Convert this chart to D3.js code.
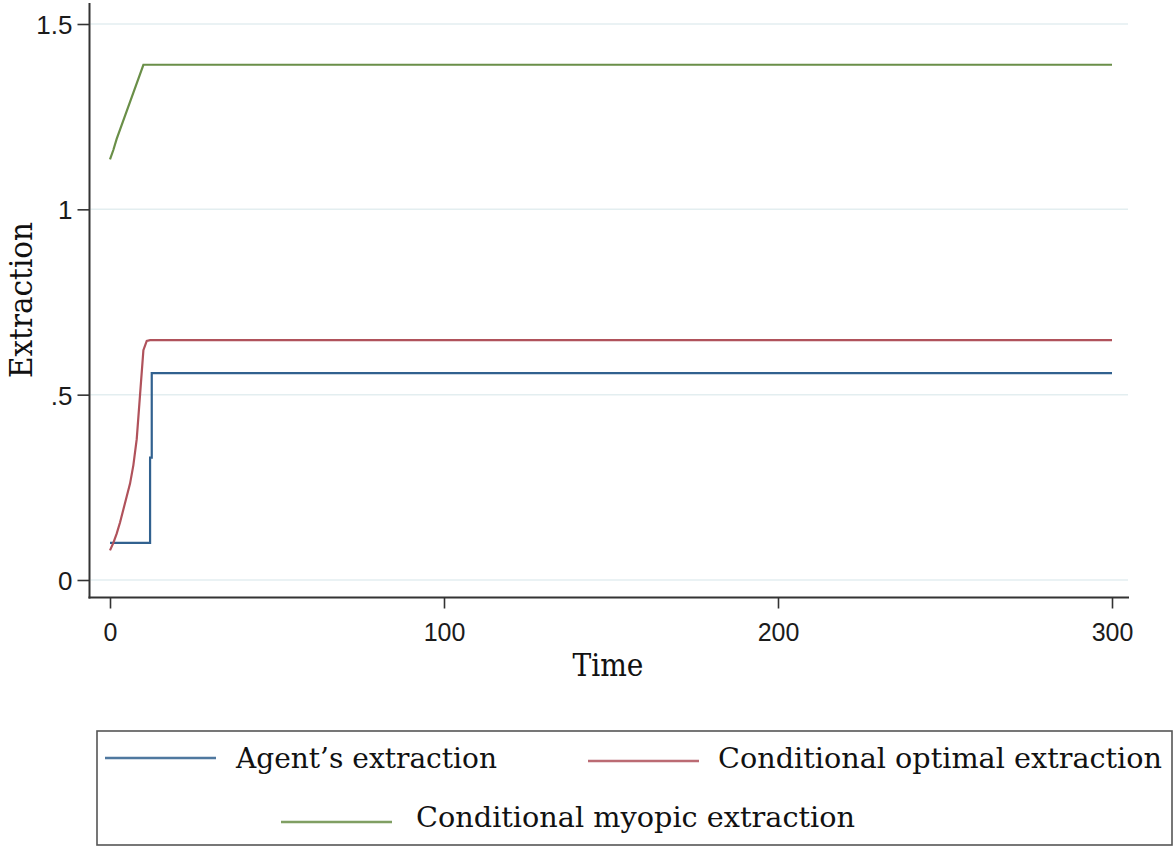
<!DOCTYPE html>
<html>
<head>
<meta charset="utf-8">
<script src="https://cdn.jsdelivr.net/npm/d3@7"></script>
<style>
  html, body { margin: 0; padding: 0; background: #fff; }
  svg { display: block; }
</style>
</head>
<body>
<svg id="chart" width="1174" height="846"></svg>
<script>
// ---- data ----
const myopicTime   = [0, 1, 2, 3, 4, 5, 6, 7, 8, 9, 10, 300];
const myopicValue  = [1.135, 1.16, 1.19, 1.215, 1.24, 1.265, 1.29, 1.315, 1.34, 1.365, 1.39, 1.39];
const optimalTime  = [0, 1, 2, 3, 4, 5, 6, 7, 8, 9, 10, 11, 12, 300];
const optimalValue = [0.08, 0.10, 0.125, 0.155, 0.19, 0.225, 0.26, 0.31, 0.38, 0.50, 0.62, 0.645, 0.647, 0.647];
const agentTime    = [0, 12, 12, 12.5, 12.5, 300];
const agentValue   = [0.10, 0.10, 0.33, 0.33, 0.558, 0.558];
const xTicks = [0, 100, 200, 300];
const yTicks = [0, 0.5, 1, 1.5];
const yTickLabels = ["0", ".5", "1", "1.5"];
const seriesNames = ["Agent\u2019s extraction", "Conditional optimal extraction", "Conditional myopic extraction"];
const colors = ["#31618f", "#b0525b", "#6a8f48"];

// ---- layout ----
const svg = d3.select("#chart");
const axisLeftX = 89.5, axisBottomY = 597.5;
const x = d3.scaleLinear().domain([0, 300]).range([110, 1112]);
const y = d3.scaleLinear().domain([0, 1.5]).range([580, 24]);
const plotRight = 1129, plotTop = 3;

// gridlines
svg.append("g").selectAll("line").data(yTicks).join("line")
  .attr("x1", axisLeftX + 1).attr("x2", plotRight - 1)
  .attr("y1", d => y(d)).attr("y2", d => y(d))
  .attr("stroke", "#e3eef0").attr("stroke-width", 1.5);

// y axis
const yAxis = d3.axisLeft(y).tickValues(yTicks).tickSize(12).tickSizeOuter(0)
  .tickFormat((d, i) => yTickLabels[i]);
const gy = svg.append("g").attr("transform", `translate(${axisLeftX},0)`).call(yAxis);
gy.select(".domain").remove();
gy.selectAll(".tick line").attr("stroke", "#333").attr("stroke-width", 1.6);
gy.selectAll(".tick text").attr("x", -17).attr("dy", "0.36em")
  .attr("font-family", "'Liberation Sans', Arial, sans-serif").attr("font-size", 26).attr("fill", "#1b1b1b");
svg.append("line").attr("x1", axisLeftX).attr("x2", axisLeftX)
  .attr("y1", plotTop).attr("y2", axisBottomY + 1)
  .attr("stroke", "#333").attr("stroke-width", 2);

// x axis
const xAxis = d3.axisBottom(x).tickValues(xTicks).tickSize(11).tickSizeOuter(0).tickFormat(d3.format("d"));
const gx = svg.append("g").attr("transform", `translate(0,${axisBottomY})`).call(xAxis);
gx.select(".domain").remove();
gx.selectAll(".tick line").attr("stroke", "#333").attr("stroke-width", 1.6);
gx.selectAll(".tick text").attr("y", 43).attr("dy", 0)
  .attr("font-family", "'Liberation Sans', Arial, sans-serif").attr("font-size", 25).attr("fill", "#1b1b1b");
svg.append("line").attr("x1", axisLeftX - 1).attr("x2", plotRight)
  .attr("y1", axisBottomY).attr("y2", axisBottomY)
  .attr("stroke", "#333").attr("stroke-width", 2);

// axis titles
svg.append("text").attr("x", 608).attr("y", 676).attr("text-anchor", "middle")
  .attr("font-family", "'DejaVu Serif', serif").attr("font-size", 32).attr("fill", "#111")
  .attr("textLength", 71).attr("lengthAdjust", "spacingAndGlyphs").text("Time");
svg.append("text").attr("transform", "translate(32,300) rotate(-90)").attr("text-anchor", "middle")
  .attr("font-family", "'DejaVu Serif', serif").attr("font-size", 32).attr("fill", "#111")
  .attr("textLength", 156).attr("lengthAdjust", "spacingAndGlyphs").text("Extraction");

// lines
const line = d3.line().x(d => x(d[0])).y(d => y(d[1]));
const series = [
  d3.zip(agentTime, agentValue),
  d3.zip(optimalTime, optimalValue),
  d3.zip(myopicTime, myopicValue)
];
svg.append("g").selectAll("path").data([0, 1, 2]).join("path")
  .attr("d", i => line(series[i]))
  .attr("fill", "none").attr("stroke", i => colors[i]).attr("stroke-width", 2.2)
  .attr("stroke-linejoin", "miter");

// legend
svg.append("rect").attr("x", 97).attr("y", 731).attr("width", 1075).attr("height", 114)
  .attr("fill", "none").attr("stroke", "#555").attr("stroke-width", 1.6);
const legendItems = [
  { i: 0, lx: 105, ly: 758, tx: 236, ty: 768, tl: 261 },
  { i: 1, lx: 588, ly: 761, tx: 718, ty: 768, tl: 444 },
  { i: 2, lx: 281, ly: 822, tx: 416, ty: 827, tl: 439 }
];
const lg = svg.append("g").selectAll("g").data(legendItems).join("g");
lg.append("line").attr("x1", d => d.lx).attr("x2", d => d.lx + 111)
  .attr("y1", d => d.ly).attr("y2", d => d.ly)
  .attr("stroke", d => colors[d.i]).attr("stroke-width", 2.5).attr("opacity", 0.85);
lg.append("text").attr("x", d => d.tx).attr("y", d => d.ty)
  .attr("font-family", "'DejaVu Serif', serif").attr("font-size", 28).attr("fill", "#111")
  .attr("textLength", d => d.tl).attr("lengthAdjust", "spacingAndGlyphs")
  .text(d => seriesNames[d.i]);
</script>
</body>
</html>
